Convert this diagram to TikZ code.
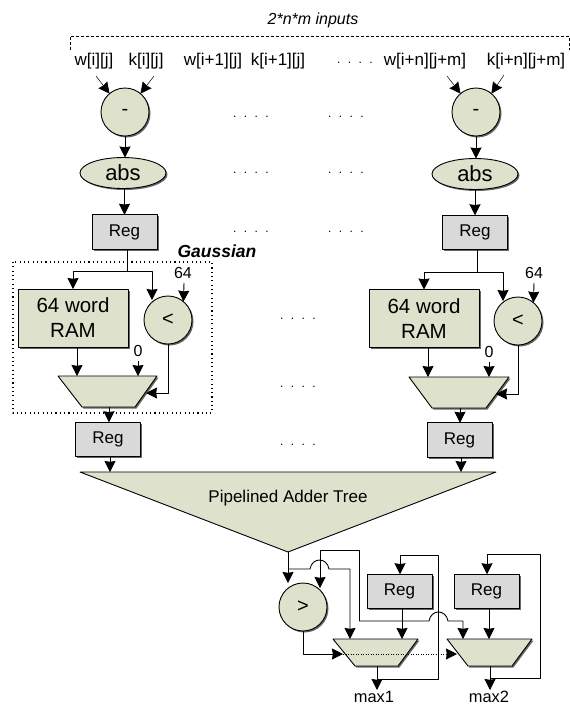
\documentclass[tikz,border=0pt]{standalone}
\usepackage{fontspec}
\setmainfont{Liberation Sans}
\usetikzlibrary{arrows.meta,shapes.geometric,shadows}
\definecolor{unitfill}{HTML}{DEE1CB}
\definecolor{regfill}{HTML}{D9D9D9}
\newcommand{\gapmarks}{.\hspace{7.4pt}.\hspace{7.4pt}.\hspace{7.4pt}.}
\tikzset{
	boxshadow/.style={drop shadow={shadow xshift=1.5pt,shadow yshift=-1.5pt,fill=black!70,opacity=0.85}},
	opcircle/.style={draw,circle,fill=unitfill,minimum size=48pt,inner sep=0pt,outer sep=0pt,boxshadow,font=\fontsize{20}{22}\selectfont},
	absnode/.style={draw,ellipse,fill=unitfill,minimum width=86pt,minimum height=31pt,inner sep=0pt,outer sep=0pt,boxshadow,font=\fontsize{22}{24}\selectfont},
	regbox/.style={draw,fill=regfill,minimum width=65pt,minimum height=34.5pt,inner sep=0pt,outer sep=0pt,boxshadow,font=\fontsize{17}{20}\selectfont},
	rambox/.style={draw,fill=unitfill,minimum width=110pt,minimum height=58pt,inner sep=0pt,outer sep=0pt,boxshadow,align=center,font=\fontsize{20.5}{25}\selectfont},
	muxshape/.style={draw,fill=unitfill,boxshadow},
	biglabel/.style={inner sep=0pt,font=\fontsize{17}{20}\selectfont},
	smalllabel/.style={inner sep=0pt,font=\fontsize{16}{18}\selectfont},
	gapdots/.style={inner sep=0pt,font=\fontsize{12}{14}\selectfont},
}
\begin{document}
\begin{tikzpicture}[x=1pt,y=-1pt,>={Stealth[length=11pt,width=11pt,inset=0.8pt]},line width=0.9pt,line join=round]
	\useasboundingbox (0,0) rectangle (570,705);
	% inputs
	\node[smalllabel,font=\fontsize{16}{18}\selectfont\itshape] (title) at (313,20) {2*n*m inputs};
	\draw[densely dashed,line width=0.5pt] (70,50)--(70,36)--(569,36)--(569,50);
	\node[biglabel] (wa) at (94,61) {w[i][j]};
	\node[biglabel] (ka) at (146,61) {k[i][j]};
	\node[biglabel] (wb) at (213,61) {w[i+1][j]};
	\node[biglabel] (kb) at (278,61) {k[i+1][j]};
	\node[gapdots] (da) at (355,63) {\gapmarks};
	\node[biglabel] (wc) at (425,61) {w[i+n][j+m]};
	\node[biglabel] (kc) at (526,61) {k[i+n][j+m]};
	% left column
	\node[opcircle] (suba) at (125,112) {-};
	\node[absnode] (absa) at (123,173) {abs};
	\node[regbox] (rega) at (124.5,232) {Reg};
	\node[rambox] (rama) at (73,318) {64 word\\RAM};
	\node[opcircle] (ltha) at (168,320) {<};
	\node[smalllabel] (numa) at (183,273) {64};
	\node[smalllabel] (zeroa) at (138,351) {0};
	\path[muxshape] (58,376)--(157,376)--(135,407)--(82,407)--cycle;
	\node[regbox] (regb) at (108,439.5) {Reg};
	% right column
	\node[opcircle] (subb) at (476,112) {-};
	\node[absnode] (absb) at (475,174) {abs};
	\node[regbox] (regc) at (475,232.5) {Reg};
	\node[rambox] (ramb) at (424,318.5) {64 word\\RAM};
	\node[opcircle] (lthb) at (518,321) {<};
	\node[smalllabel] (numb) at (534,273) {64};
	\node[smalllabel] (zerob) at (489,352) {0};
	\path[muxshape] (409,377)--(509,377)--(486,408)--(432,408)--cycle;
	\node[regbox] (regd) at (459.5,440) {Reg};
	% gap dots
	\node[gapdots] (db) at (251,117) {\gapmarks};
	\node[gapdots] (dc) at (346,117) {\gapmarks};
	\node[gapdots] (dd) at (251,173) {\gapmarks};
	\node[gapdots] (de) at (346,173) {\gapmarks};
	\node[gapdots] (df) at (251,232) {\gapmarks};
	\node[gapdots] (dg) at (346,232) {\gapmarks};
	\node[gapdots] (dh) at (298,319) {\gapmarks};
	\node[gapdots] (di) at (298,387) {\gapmarks};
	\node[gapdots] (dj) at (298,445) {\gapmarks};
	% gaussian box
	\draw[line width=1.1pt,dash pattern=on 1.1pt off 3.2pt] (13,262) rectangle (212,413);
	\node[biglabel,font=\fontsize{17.5}{20}\selectfont\bfseries\itshape] (gauss) at (217,251) {Gaussian};
	% adder tree
	\draw[fill=unitfill] (80,472)--(496,472)--(288,552)--cycle;
	\coordinate (apex) at (288,552);
	\node[biglabel] (tree) at (288,498) {Pipelined Adder Tree};
	% bottom part
	\node[opcircle] (gth) at (303,607) {>};
	\node[regbox] (rege) at (399.5,591.5) {Reg};
	\node[regbox] (regf) at (486.5,591.5) {Reg};
	\path[muxshape] (333,639)--(418,639)--(398,666)--(355,666)--cycle;
	\path[muxshape] (447,639)--(532,639)--(512,666)--(468,666)--cycle;
	\node[biglabel,font=\fontsize{16.4}{18}\selectfont] (maxa) at (374,697) {max1};
	\node[biglabel,font=\fontsize{16.4}{18}\selectfont] (maxb) at (489,697) {max2};
	% connectors, left column
	\draw[->,line width=0.5pt] (96,76)--(suba.130);
	\draw[->,line width=0.5pt] (154,76)--(suba.50);
	\draw[->] (suba.south)--(absa.north -| suba.south);
	\draw[->] (absa.south -| rega.north)--(rega.north);
	\draw (127,249)--(127,271);
	\draw[->] (127,271)--(rama.north |- 0,271)--(rama.north);
	\draw[->] (127,271)--(152,271)--(152,300);
	\draw[->] (184,283)--(ltha.50);
	\draw[->] (77,347)--(77,376);
	\draw[->] (zeroa.south |- 0,361)--(zeroa.south |- 0,376);
	\draw[->] (ltha.south)--(168,393)--(146,393);
	\draw[->] (109,407)--(regb.north -| 109,0);
	\draw[->] (regb.south -| 110,0)--(110,472);
	% connectors, right column
	\draw[->,line width=0.5pt] (447,76)--(subb.130);
	\draw[->,line width=0.5pt] (504,75)--(subb.50);
	\draw[->] (subb.south)--(absb.north -| subb.south);
	\draw[->] (absb.south -| regc.north)--(regc.north);
	\draw (477,250)--(477,272);
	\draw[->] (477,272)--(ramb.north |- 0,272)--(ramb.north);
	\draw[->] (477,272)--(503,272)--(503,301);
	\draw[->] (534,283)--(lthb.50);
	\draw[->] (428,348)--(428,377);
	\draw[->] (zerob.south |- 0,362)--(zerob.south |- 0,377);
	\draw[->] (lthb.south)--(518,394)--(496,394);
	\draw[->] (460,408)--(regd.north -| 460,0);
	\draw[->] (regd.south -| 461,0)--(461,472);
	% connectors, bottom part
	\draw[->] (apex)--(gth.north -| apex);
	\draw[->] (apex |- 0,569)--(310,569) .. controls (312,557) and (327,557) .. (329,569)--(350,569)--(350,639);
	\draw[->] (359,621)--(429,621) .. controls (431,609) and (446,609) .. (448,621)--(463,621)--(463,639);
	\draw[->] (359,621)--(359,550)--(320,550)--(320,588);
	\draw[->] (rege.south -| 402,0)--(402,639);
	\draw[->] (regf.south -| 489,0)--(489,639);
	\draw[->] (gth.south)--(303,654)--(343,654);
	\draw[dotted,line width=0.5pt] (343,654)--(447,654);
	\draw[->] (447,654)--(457,654);
	\draw[->] (377,666)--(377,690);
	\draw[->] (490,666)--(490,690);
	\draw[->] (377,679)--(438,679)--(438,555)--(400,555)--(rege.north -| 400,0);
	\draw[->] (490,678)--(540,678)--(540,554)--(487,554)--(regf.north -| 487,0);
\end{tikzpicture}
\end{document}
